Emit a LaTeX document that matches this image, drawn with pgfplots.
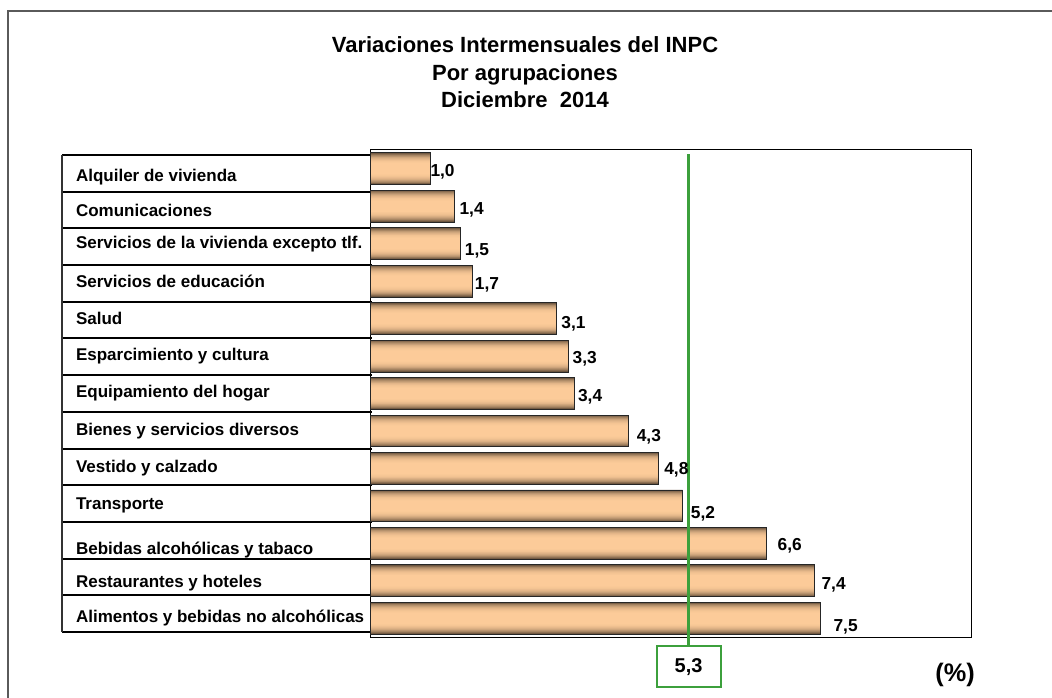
\documentclass[border=0pt]{standalone}
\usepackage{pgfplots}
\usepackage{pgfplotstable}
\pgfplotsset{compat=1.18}
\usepackage{fontspec}
\setmainfont{Liberation Sans}
\definecolor{bardark}{RGB}{105,82,60}
\definecolor{barlight}{RGB}{252,203,153}
\definecolor{refgreen}{RGB}{60,160,60}
\definecolor{framegray}{RGB}{90,90,90}
% dx, dy: label offsets (pt) as in the reference
\pgfplotstableread{
idx val dx dy
0 1.0 0.0 -2.6
1 1.4 3.8 -3.0
2 1.5 3.3 -5.7
3 1.7 1.8 -2.5
4 3.1 3.5 -3.75
5 3.3 3.0 -2.25
6 3.4 2.5 -2.25
7 4.3 6.0 -4.7
8 4.8 4.1 -0.75
9 5.2 6.0 -6.0
10 6.6 8.0 -1.5
11 7.4 4.8 -3.0
12 7.5 9.3 -6.75
}\bardata
\newcommand\barlayer[2]{\addplot[draw=none, fill=barlight!#2!bardark, bar width=#1, bar shift=0pt, forget plot] table[x=val,y=idx]{\bardata};}
\newcommand\lowerby[2]{\raisebox{-#1}[\height][\depth]{#2}}
\begin{document}
\begin{tikzpicture}
\path[use as bounding box] (0,0) rectangle (789pt,523.5pt);
\begin{scope}[x=0.75pt,y=-0.75pt,yshift=523.5pt]
  % outer frame
  \draw[framegray, line width=1.5pt] (8,698) -- (8,11) -- (1052,11);
  % titles
  \node[anchor=base, font=\bfseries\fontsize{16.5}{20}\selectfont] at (525,53) {Variaciones Intermensuales del INPC};
  \node[anchor=base, font=\bfseries\fontsize{16.5}{20}\selectfont] at (525,80.5) {Por agrupaciones};
  \node[anchor=base, font=\bfseries\fontsize{16.5}{20}\selectfont] at (525,108) {Diciembre\ \ 2014};
  % label table
  \foreach \k in {0,...,13} {
    \draw[line width=1.5pt] (62,{155+36.7*\k}) -- (372,{155+36.7*\k});
  }
  \draw[line width=0.8pt, black!80] (62,155) -- (62,632);
  % unit
  \node[font=\bfseries\fontsize{19}{22}\selectfont] at (955,675) {(\%)};
\end{scope}
\begin{axis}[
  at={(277.5pt,45.75pt)}, anchor=south west,
  scale only axis, width=450.75pt, height=365.25pt,
  xmin=0, xmax=10, ymin=-0.5, ymax=12.5,
  y dir=reverse,
  xbar, bar width=0.85,
  xtick=\empty,
  ytick={0,...,12},
  yticklabels={\lowerby{6pt}{Alquiler de vivienda}, \lowerby{3.4pt}{Comunicaciones}, Servicios de la vivienda excepto tlf., Servicios de educación, Salud, Esparcimiento y cultura, Equipamiento del hogar, Bienes y servicios diversos, Vestido y calzado, Transporte, \lowerby{5pt}{Bebidas alcohólicas y tabaco}, \lowerby{2pt}{Restaurantes y hoteles}, Alimentos y bebidas no alcohólicas},
  yticklabel style={anchor=west, xshift=-224pt, font=\bfseries\fontsize{12.75}{14}\selectfont},
  major tick length=0pt,
  axis line style={line width=0.75pt},
  clip=false,
  /pgf/number format/use comma,
  /pgf/number format/fixed,
  /pgf/number format/fixed zerofill,
  /pgf/number format/precision=1,
  /pgf/number format/assume math mode=true,
]
\barlayer{0.85}{0}
\barlayer{0.80}{20}
\barlayer{0.75}{38}
\barlayer{0.70}{52}
\barlayer{0.65}{64}
\barlayer{0.60}{74}
\barlayer{0.55}{82}
\barlayer{0.50}{88}
\barlayer{0.45}{93}
\barlayer{0.40}{96}
\barlayer{0.35}{98}
\barlayer{0.30}{100}
\addplot[draw=black!85, line width=0.6pt, fill=none, bar width=0.85, bar shift=0pt,
  point meta=x, nodes near coords,
  visualization depends on=\thisrow{dx} \as \dxv,
  visualization depends on=\thisrow{dy} \as \dyv,
  nodes near coords style={font=\bfseries\fontsize{13}{15}\selectfont, anchor=west, inner sep=0pt, xshift=\dxv pt, yshift=\dyv pt, text=black}]
  table[x=val,y=idx]{\bardata};
\draw[refgreen, line width=2pt] (axis cs:5.3,-0.39) -- (axis cs:5.3,12.74);
\node[draw=refgreen, line width=1.5pt, fill=white, minimum width=48pt, minimum height=30.75pt, font=\bfseries\fontsize{15}{18}\selectfont] at (axis cs:5.3,13.29) {5,3};
\end{axis}
\end{tikzpicture}
\end{document}
